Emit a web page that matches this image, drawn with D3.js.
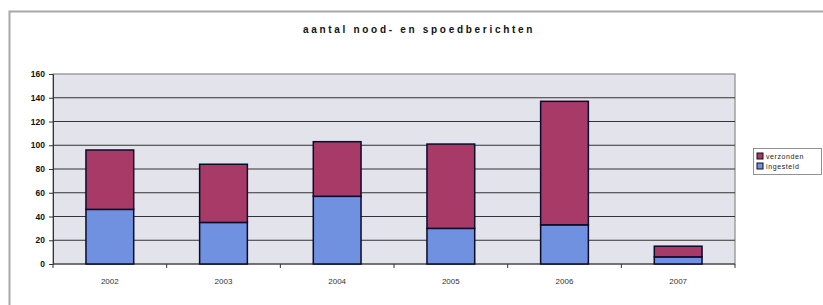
<!DOCTYPE html>
<html>
<head>
<meta charset="utf-8">
<script src="https://cdn.jsdelivr.net/npm/d3@7"></script>
<style>
  body { margin: 0; background: #fff; }
  svg { display: block; }
</style>
</head>
<body>
<div id="chart"></div>
<script>
// data
const years = ['2002', '2003', '2004', '2005', '2006', '2007'];
const ingesteld = [46, 35, 57, 30, 33, 6];
const verzonden = [50, 49, 46, 71, 104, 9];
const yTicks = [0, 20, 40, 60, 80, 100, 120, 140, 160];
const seriesNames = ['verzonden', 'ingesteld'];

const width = 823;
const height = 305;
const margin = { top: 74, right: 88, bottom: 41, left: 53 };

const colors = {
  verzonden: '#a83a68',
  ingesteld: '#7090e0',
};

const svg = d3.select('#chart')
  .append('svg')
  .attr('width', width)
  .attr('height', height);

// outer chart border (runs off the picture on right and bottom)
svg.append('rect')
  .attr('x', 9.5)
  .attr('y', 11.5)
  .attr('width', width)
  .attr('height', height)
  .attr('fill', 'none')
  .attr('stroke', '#a8a8a8')
  .attr('stroke-width', 2);

svg.append('text')
  .attr('x', 419)
  .attr('y', 33)
  .attr('text-anchor', 'middle')
  .attr('font-family', 'Liberation Sans, Arial, sans-serif')
  .attr('font-size', '10px')
  .attr('font-weight', 'bold')
  .attr('letter-spacing', '2.7px')
  .attr('fill', '#111')
  .text('aantal nood- en spoedberichten');

const x = d3.scaleBand()
  .domain(years)
  .range([margin.left, width - margin.right])
  .paddingInner(0.58)
  .paddingOuter(0.29);

const y = d3.scaleLinear()
  .domain([0, 160])
  .range([height - margin.bottom, margin.top]);

// plot background
svg.append('rect')
  .attr('x', margin.left)
  .attr('y', y(160))
  .attr('width', width - margin.right - margin.left)
  .attr('height', y(0) - y(160))
  .attr('fill', '#e3e3ec')
  .attr('stroke', '#8a8a8a')
  .attr('stroke-width', 1.2);

// gridlines
svg.append('g')
  .selectAll('line')
  .data(yTicks.filter(d => d > 0 && d < 160))
  .enter()
  .append('line')
  .attr('x1', margin.left)
  .attr('x2', width - margin.right)
  .attr('y1', d => y(d))
  .attr('y2', d => y(d))
  .attr('stroke', '#333')
  .attr('stroke-width', 1.1);

// y axis
const yAxis = svg.append('g')
  .attr('transform', `translate(${margin.left},0)`)
  .call(d3.axisLeft(y).tickValues(yTicks).tickSize(4).tickPadding(4));
yAxis.select('.domain').attr('stroke', '#333');
yAxis.selectAll('line').attr('stroke', '#333');
yAxis.selectAll('text')
  .attr('font-family', 'Liberation Sans, Arial, sans-serif')
  .attr('font-size', '8.5px')
  .attr('font-weight', 'bold')
  .attr('fill', '#111');

// x axis
const xAxisG = svg.append('g')
  .attr('transform', `translate(0,${y(0)})`);
xAxisG.append('line')
  .attr('x1', margin.left)
  .attr('x2', width - margin.right)
  .attr('stroke', '#333')
  .attr('stroke-width', 1.2);
xAxisG.selectAll('.tick')
  .data(d3.range(years.length + 1))
  .enter()
  .append('line')
  .attr('x1', i => margin.left + i * (width - margin.right - margin.left) / years.length)
  .attr('x2', i => margin.left + i * (width - margin.right - margin.left) / years.length)
  .attr('y1', 0)
  .attr('y2', 4)
  .attr('stroke', '#333');
xAxisG.selectAll('text')
  .data(years)
  .enter()
  .append('text')
  .attr('x', d => x(d) + x.bandwidth() / 2)
  .attr('y', 20)
  .attr('text-anchor', 'middle')
  .attr('font-family', 'Liberation Sans, Arial, sans-serif')
  .attr('font-size', '8px')
  .attr('fill', '#333')
  .text(d => d);

// stacked bars
const rows = years.map((yr, i) => ({ year: yr, ingesteld: ingesteld[i], verzonden: verzonden[i] }));
const stack = d3.stack().keys(['ingesteld', 'verzonden'])(rows);

svg.append('g')
  .selectAll('g')
  .data(stack)
  .enter()
  .append('g')
  .attr('fill', d => colors[d.key])
  .selectAll('rect')
  .data(d => d)
  .enter()
  .append('rect')
  .attr('x', d => x(d.data.year))
  .attr('y', d => y(d[1]))
  .attr('width', x.bandwidth())
  .attr('height', d => y(d[0]) - y(d[1]))
  .attr('stroke', '#0a0a2a')
  .attr('stroke-width', 1.5);

// legend
const legend = svg.append('g')
  .attr('transform', 'translate(753,148)');
legend.append('rect')
  .attr('x', 0.5)
  .attr('y', 0.5)
  .attr('width', 68)
  .attr('height', 26)
  .attr('fill', '#fff')
  .attr('stroke', '#777')
  .attr('stroke-width', 0.8);

const li = legend.selectAll('.item')
  .data(seriesNames)
  .enter()
  .append('g')
  .attr('transform', (d, i) => `translate(4,${5 + i * 10})`);
li.append('rect')
  .attr('width', 6)
  .attr('height', 6)
  .attr('fill', d => colors[d])
  .attr('stroke', '#111')
  .attr('stroke-width', 1);
li.append('text')
  .attr('x', 9)
  .attr('y', 6)
  .attr('font-family', 'Liberation Sans, Arial, sans-serif')
  .attr('font-size', '7px')
  .attr('letter-spacing', '0.6px')
  .attr('fill', '#222')
  .text(d => d);
</script>
</body>
</html>
